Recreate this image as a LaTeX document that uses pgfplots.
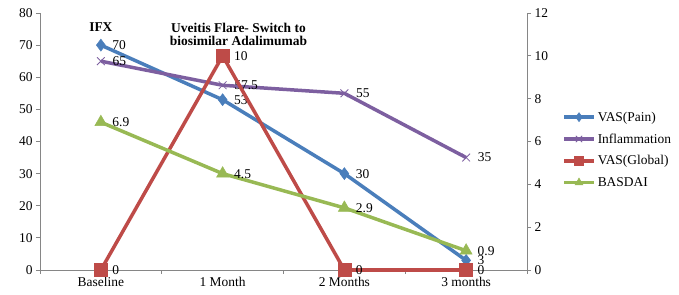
\documentclass[border=0pt]{standalone}
\usepackage{pgfplots}
\pgfplotsset{compat=1.18}
\usepackage{fontspec}
\setmainfont{Liberation Serif}
\definecolor{cblue}{HTML}{4A7EBB}
\definecolor{cpurple}{HTML}{7D5FA0}
\definecolor{cred}{HTML}{BE4B48}
\definecolor{cgreen}{HTML}{98B954}
\definecolor{axgray}{HTML}{868686}
\pgfplotsset{
 base/.style={
  scale only axis, width=487bp, height=257bp,
  at={(40bp,25bp)}, anchor=south west,
  xmin=-0.5, xmax=3.5,
  tick label style={font=\fontsize{13.5}{15}\selectfont, text=black},
  /pgf/number format/assume math mode=true,
  axis line style={axgray, line width=0.8bp},
  tick style={axgray, line width=0.8bp},
  tick align=outside,
  major tick length=4bp, minor tick length=4bp,
  clip=false,
 },
 lab/.style={nodes near coords, point meta=explicit symbolic,
   every node near coord/.append style={anchor=west, xshift=8bp, yshift=0bp, inner ysep=0bp, text height=8.8bp, text depth=0bp, font=\fontsize{13.5}{15}\selectfont, text=black}},
 sblue/.style={cblue, line width=3.5bp, mark=diamond*, mark size=6bp, mark options={solid, fill=cblue, line width=0.5bp}},
 spurple/.style={cpurple, line width=3.5bp, mark=x, mark size=5.5bp, mark options={solid, line width=0.8bp}},
 sred/.style={cred, line width=3.5bp, mark=square*, mark size=6.5bp, mark options={solid, fill=cred, line width=0.5bp}},
 sgreen/.style={cgreen, line width=3.5bp, mark=triangle*, mark size=7bp, mark options={solid, fill=cgreen, line width=0.5bp}},
}
\begin{document}
\begin{tikzpicture}
\path[use as bounding box] (0,0) rectangle (679bp,295bp);
\begin{axis}[base, ymin=0, ymax=80, ytick={0,10,...,80},
  axis x line*=bottom, axis y line*=left,
  xtick={0,1,2,3}, xticklabels={Baseline,1 Month,2 Months,3 months},
  major x tick style={draw=none},
  minor xtick={-0.5,0.5,1.5,2.5,3.5}]
\addplot[sblue, lab] coordinates {(0,70)[70] (1,53)[53] (2,30)[30] (3,3)[3]};
\addplot[spurple, lab] coordinates {(0,65)[65] (1,57.5)[57.5] (2,55)[55] (3,35)[35]};
\node[font=\bfseries\fontsize{13.5}{15}\selectfont] at (axis cs:0,75.5) {IFX};
\node[font=\bfseries\fontsize{13.5}{15}\selectfont, align=center, inner sep=0pt] at (axis cs:1.13,73.4) {Uveitis Flare- Switch to\\[-1.5bp]biosimilar Adalimumab};
\end{axis}
\begin{axis}[base, ymin=0, ymax=12, ytick={0,2,...,12},
  axis y line*=right, axis x line=none,
  legend style={at={(1.072,0.468)}, anchor=west, draw=none, fill=none,
    font=\fontsize{13.5}{15}\selectfont, row sep=7bp, inner sep=0pt},
  legend cell align=left,
  legend image code/.code={\draw[mark repeat=2, mark phase=2, mark size=4.5bp] plot coordinates {(0bp,0bp) (15bp,0bp) (30bp,0bp)};}]
\addlegendimage{sblue}\addlegendentry{VAS(Pain)}
\addlegendimage{spurple}\addlegendentry{Inflammation}
\addplot[sred, lab] coordinates {(0,0)[0] (1,10)[10] (2,0)[0] (3,0)[0]};
\addlegendentry{VAS(Global)}
\addplot[sgreen, lab] coordinates {(0,6.9)[6.9] (1,4.5)[4.5] (2,2.9)[2.9] (3,0.9)[0.9]};
\addlegendentry{BASDAI}
\end{axis}
\end{tikzpicture}
\end{document}
